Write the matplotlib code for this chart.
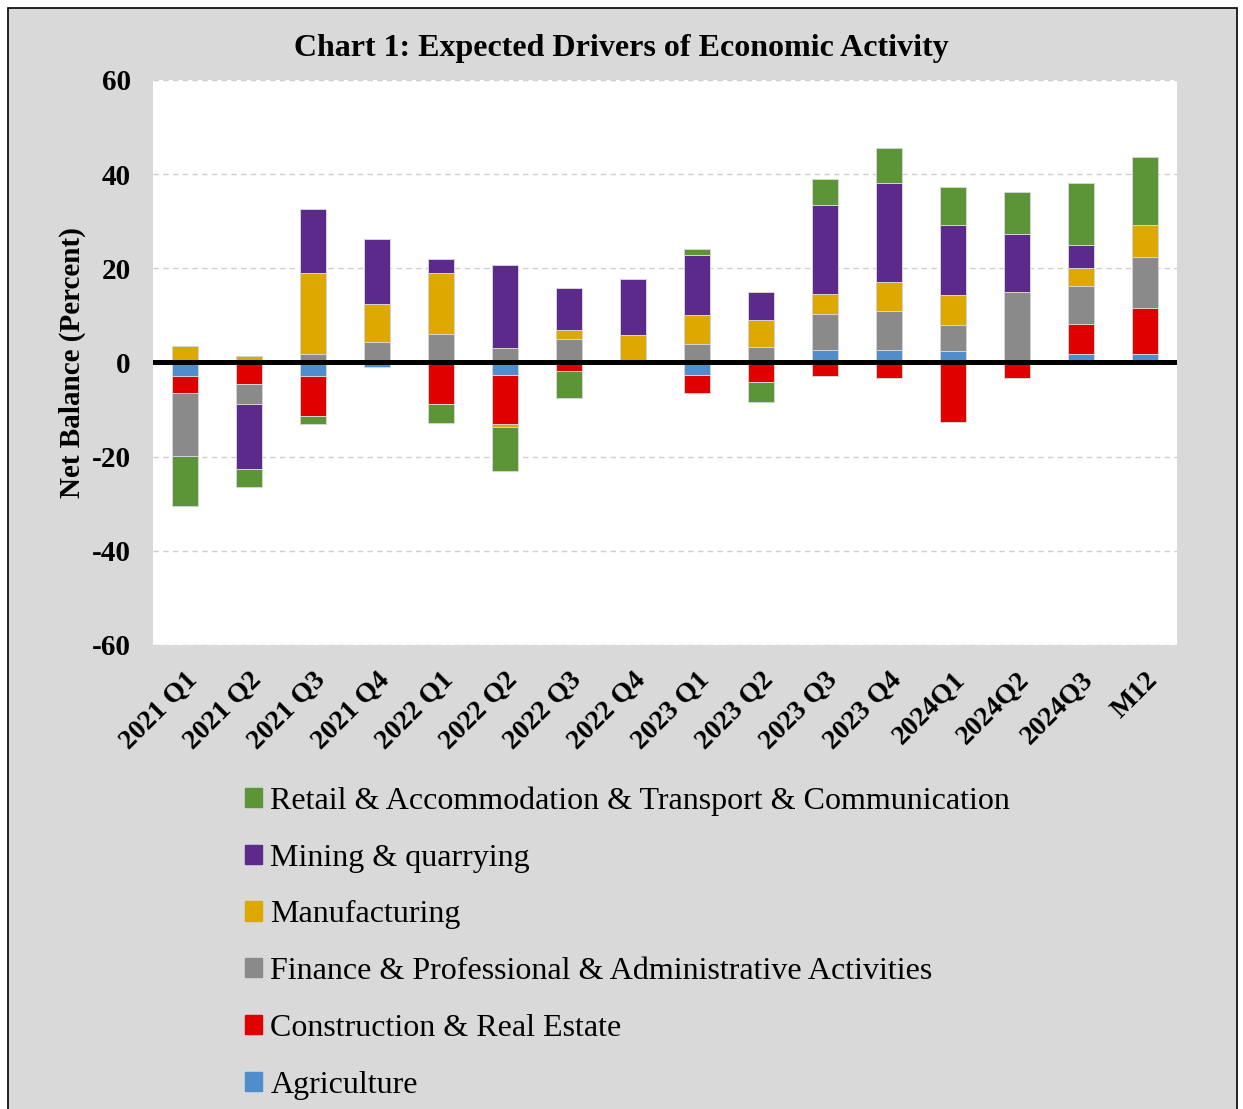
import numpy as np
import matplotlib
matplotlib.use("Agg")
import matplotlib.pyplot as plt
from matplotlib.patches import Rectangle, Patch

plt.rcParams['font.family'] = ['Liberation Serif', 'DejaVu Serif']
plt.rcParams['axes.unicode_minus'] = False

# chart data (net balance, percent)
quarters = ['2021 Q1', '2021 Q2', '2021 Q3', '2021 Q4', '2022 Q1', '2022 Q2',
            '2022 Q3', '2022 Q4', '2023 Q1', '2023 Q2', '2023 Q3', '2023 Q4',
            '2024Q1', '2024Q2', '2024Q3', 'M12']

agriculture   = [-2.8, 0.0, -2.8, -0.9, 0.0, -2.7, 0.0, 0.0, -2.7, 0.0, 2.6, 2.6, 2.4, 0.6, 1.7, 1.7]
construction  = [-3.6, -4.5, -8.6, 0.0, -8.8, -10.4, -1.8, 0.0, -3.7, -4.1, -2.8, -3.4, -12.6, -3.2, 6.4, 9.8]
finance       = [-13.4, -4.4, 1.9, 4.4, 6.0, 3.0, 4.9, 0.0, 4.0, 3.2, 7.8, 8.3, 5.5, 14.3, 8.2, 11.0]
manufacturing = [3.5, 1.4, 17.0, 8.1, 13.1, -0.6, 2.1, 5.9, 6.1, 5.9, 4.2, 6.2, 6.4, 0.0, 3.7, 6.8]
mining        = [0.0, -13.8, 13.7, 13.8, 2.9, 17.8, 8.9, 11.8, 12.7, 5.9, 18.9, 21.0, 14.9, 12.4, 4.9, 0.0]
retail        = [-10.6, -3.8, -1.7, 0.0, -4.0, -9.3, -5.7, 0.0, 1.3, -4.4, 5.4, 7.4, 8.1, 8.8, 13.2, 14.4]

series = [
    ('Agriculture', agriculture, '#4f8dcc'),
    ('Construction & Real Estate', construction, '#e00000'),
    ('Finance & Professional & Administrative Activities', finance, '#8a8a8a'),
    ('Manufacturing', manufacturing, '#dda800'),
    ('Mining & quarrying', mining, '#5b2a8a'),
    ('Retail & Accommodation & Transport & Communication', retail, '#5b9538'),
]

fig = plt.figure(figsize=(12.43, 11.09), dpi=100)
fig.patch.set_facecolor('white')
fig.add_artist(Rectangle((0.0065, -0.01), 0.9885, 1.003, transform=fig.transFigure,
                         facecolor='#d9d9d9', edgecolor='black', linewidth=1.2, zorder=-10))

ax = fig.add_axes([0.1231, 0.4184, 0.8238, 0.5095])
ax.set_facecolor('white')

x = np.arange(len(quarters))
pos_bottom = np.zeros(len(quarters))
neg_bottom = np.zeros(len(quarters))
handles = []
for name, vals, col in series:
    v = np.array(vals)
    pos = np.where(v > 0, v, 0)
    neg = np.where(v < 0, v, 0)
    ax.bar(x, pos, 0.4, bottom=pos_bottom, color=col, edgecolor='#d4d4d4', linewidth=0.7, zorder=3)
    ax.bar(x, neg, 0.4, bottom=neg_bottom, color=col, edgecolor='#d4d4d4', linewidth=0.7, zorder=3)
    pos_bottom += pos
    neg_bottom += neg
    handles.append(Patch(facecolor=col, edgecolor=col, label=name))

ax.axhline(0, color='black', linewidth=3.6, zorder=4)
ax.set_ylim(-60, 60)
ax.set_xlim(-0.5, len(quarters) - 0.5)
ax.set_yticks(np.arange(-60, 61, 20))
ax.yaxis.grid(True, linestyle=(0, (4, 3)), color='#cfcfcf', linewidth=1.0, zorder=0)
ax.set_axisbelow(True)
for s in ax.spines.values():
    s.set_visible(False)
ax.tick_params(axis='both', length=0)
ax.tick_params(axis='y', pad=16, labelsize=21)
for lbl in ax.get_yticklabels():
    lbl.set_fontweight('bold')

ax.set_xticks(x)
ax.set_xticklabels(quarters, rotation=45, ha='right', va='top', rotation_mode='anchor',
                   fontsize=20, fontweight='bold')
ax.tick_params(axis='x', pad=16)

ax.set_ylabel('Net Balance (Percent)', fontsize=21, fontweight='bold', labelpad=4)

fig.text(0.5, 0.956, 'Chart 1: Expected Drivers of Economic Activity', ha='center', va='center',
         fontsize=23, fontweight='bold')

fig.legend(handles=handles[::-1], loc='upper left', bbox_to_anchor=(0.197, 0.291),
           frameon=False, fontsize=23, handlelength=0.55, handleheight=0.55,
           handletextpad=0.25, labelspacing=0.87, borderaxespad=0, borderpad=0)

fig.savefig('out.png', dpi=100, facecolor=fig.get_facecolor())
